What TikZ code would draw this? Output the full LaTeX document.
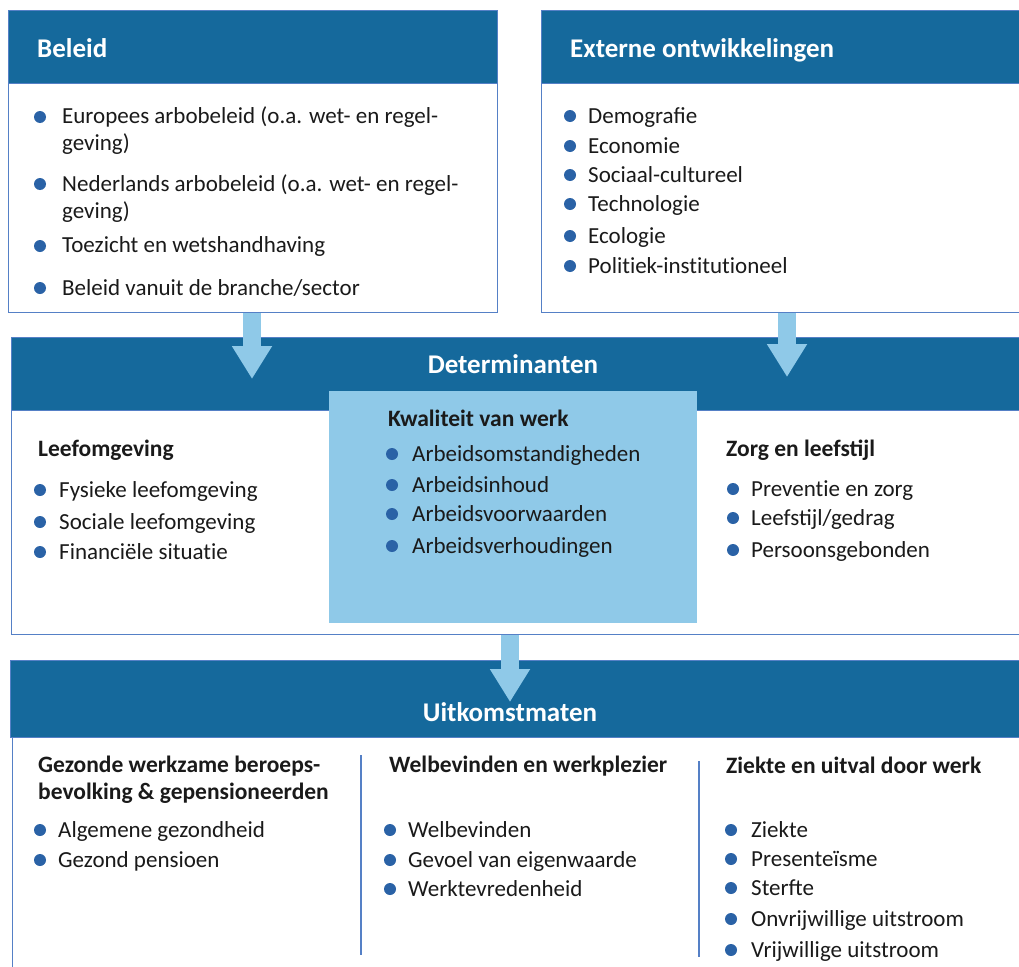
\documentclass[tikz,border=0pt]{standalone}
\usepackage{fontspec}
\setmainfont{Carlito}
\usepackage{xcolor}
\definecolor{kopblauw}{HTML}{15699C}
\definecolor{lichtblauw}{HTML}{8FC9E8}
\definecolor{lijnblauw}{HTML}{5580C6}
\definecolor{bolblauw}{HTML}{2A62A6}
\definecolor{tekstzwart}{HTML}{1A1A1A}
\usepackage{tikz}
\usetikzlibrary{%
      arrows.meta,%
  positioning%
  }
% geen ti-ligatuur
\newcommand{\tki}{t\kern0pt i}

\begin{document}
\begin{tikzpicture}[x=1pt, y=-1pt,
    vak/.style={anchor=north west, draw=lijnblauw, fill=white, line width=1.3pt, inner sep=0pt},
    kop/.style={anchor=north west, draw=lijnblauw, fill=kopblauw, line width=1.3pt, inner sep=0pt},
    koptekst/.style={text=white, font=\fontsize{27}{32}\selectfont\bfseries, inner sep=0pt},
    subkop/.style={anchor=base west, text=tekstzwart, font=\fontsize{23.5}{27}\selectfont\bfseries, inner sep=0pt, align=left},
    punt/.style={anchor=base west, text=tekstzwart, font=\fontsize{23}{27}\selectfont, inner sep=0pt, align=left},
    pijl/.style={draw=lichtblauw, line width=18pt, -{Triangle[width=38pt, length=33pt]}},
  ]
    \useasboundingbox (0,0) rectangle (1019,966);
    \fill[white] (0,0) rectangle (1019,966);
    % bovenste vakken
    \node[vak, minimum width=489pt, minimum height=302pt] (beleid) at (8,10) {};
    \node[kop, minimum width=489pt, minimum height=73pt] (beleidkop) at (8,10) {};
    \node[vak, minimum width=500pt, minimum height=302pt] (externe) at (541,10) {};
    \node[kop, minimum width=500pt, minimum height=73pt] (externekop) at (541,10) {};
    % determinanten
    \node[vak, minimum width=1030pt, minimum height=297pt] (determinanten) at (11,337) {};
    \node[kop, minimum width=1030pt, minimum height=73pt] (determinantenkop) at (11,337) {};
    \node[anchor=north west, fill=lichtblauw, inner sep=0pt, minimum width=368pt, minimum height=232pt] (kwaliteit) at (329,391) {};
    % uitkomstmaten
    \node[vak, minimum width=1030pt, minimum height=330pt] (uitkomst) at (12,660) {};
    \node[kop, minimum width=1030pt, minimum height=77pt] (uitkomstkop) at (10,660) {};
    \draw[lijnblauw, line width=1.3pt] (361,755) -- (361,955);
    \draw[lijnblauw, line width=1.3pt] (699,761) -- (699,957);
    % pijlen
    \coordinate (puntA) at (252,379);
    \coordinate (puntB) at (787,377);
    \coordinate (puntC) at (510,702);
    \draw[pijl] (puntA |- beleid.south) -- (puntA);
    \draw[pijl] (puntB |- externe.south) -- (puntB);
    \draw[pijl] (puntC |- determinanten.south) -- (puntC);
    % koppen
    \node[koptekst, anchor=base west] (beleidtitel) at (37,57) {Beleid};
    \node[koptekst, anchor=base west] (externetitel) at (570,57) {Externe ontwikkelingen};
    \node[koptekst, anchor=base] (determinantentitel) at (513,373) {Determinanten};
    \node[koptekst, anchor=base] (uitkomsttitel) at (510,721) {Uitkomstmaten};
    % beleid (bol / laatste basislijn / tekst)
    \foreach \b/\y/\t [count=\i] in {117/150/{Europees arbobeleid (o.a. wet- en regel-\\geving)},
        184/218/{Nederlands arbobeleid (o.a. wet- en regel-\\geving)},
        246/252/{Toezicht en wetshandhaving}, 288/295/{Beleid vanuit de branche/sector}} {
      \fill[bolblauw] (40,\b) circle (6);
      \node[punt] (beleid\i) at (62,\y) {\t};
    }
    % externe ontwikkelingen
    \foreach \y/\t [count=\i] in {123/Demografie, 153/Economie, 182/Sociaal-cultureel,
        211/Technologie, 243/Ecologie, 273/Poli\tki ek-ins\tki tu\tki oneel} {
      \fill[bolblauw] (570,\y-7) circle (6);
      \node[punt] (externe\i) at (588,\y) {\t};
    }
    % determinanten
    \node[subkop] (leefkop) at (38,456) {Leefomgeving};
    \foreach \y/\t [count=\i] in {497/Fysieke leefomgeving, 529/Sociale leefomgeving,
        559/Financiële situa\tki e} {
      \fill[bolblauw] (40,\y-7) circle (6);
      \node[punt] (leef\i) at (59,\y) {\t};
    }
    \node[subkop] (kwaliteitkop) at (388,426) {Kwaliteit van werk};
    \foreach \y/\t [count=\i] in {461/Arbeidsomstandigheden, 492/Arbeidsinhoud,
        521/Arbeidsvoorwaarden, 553/Arbeidsverhoudingen} {
      \fill[bolblauw] (392,\y-7) circle (6);
      \node[punt] (kwaliteit\i) at (412,\y) {\t};
    }
    \node[subkop] (zorgkop) at (726,456) {Zorg en leefstijl};
    \foreach \y/\t [count=\i] in {496/Preven\tki e en zorg, 525/{Leefstijl/gedrag},
        557/Persoonsgebonden} {
      \fill[bolblauw] (733,\y-7) circle (6);
      \node[punt] (zorg\i) at (751,\y) {\t};
    }
    % uitkomstmaten
    \node[subkop] (gezondkop) at (38,799) {Gezonde werkzame beroeps-\\bevolking \& gepensioneerden};
    \foreach \y/\t [count=\i] in {837/Algemene gezondheid, 867/Gezond pensioen} {
      \fill[bolblauw] (40,\y-7) circle (6);
      \node[punt] (gezond\i) at (58,\y) {\t};
    }
    \node[subkop] (welkop) at (389,772) {Welbevinden en werkplezier};
    \foreach \y/\t [count=\i] in {837/Welbevinden, 867/Gevoel van eigenwaarde, 896/Werktevredenheid} {
      \fill[bolblauw] (390,\y-7) circle (6);
      \node[punt] (wel\i) at (408,\y) {\t};
    }
    \node[subkop] (ziektekop) at (726,773) {Ziekte en uitval door werk};
    \foreach \y/\t [count=\i] in {837/Ziekte, 866/Presenteïsme, 895/Sterfte,
        926/Onvrijwillige uitstroom, 957/Vrijwillige uitstroom} {
      \fill[bolblauw] (731,\y-7) circle (6);
      \node[punt] (ziekte\i) at (751,\y) {\t};
    }
    \end{tikzpicture}
\end{document}
